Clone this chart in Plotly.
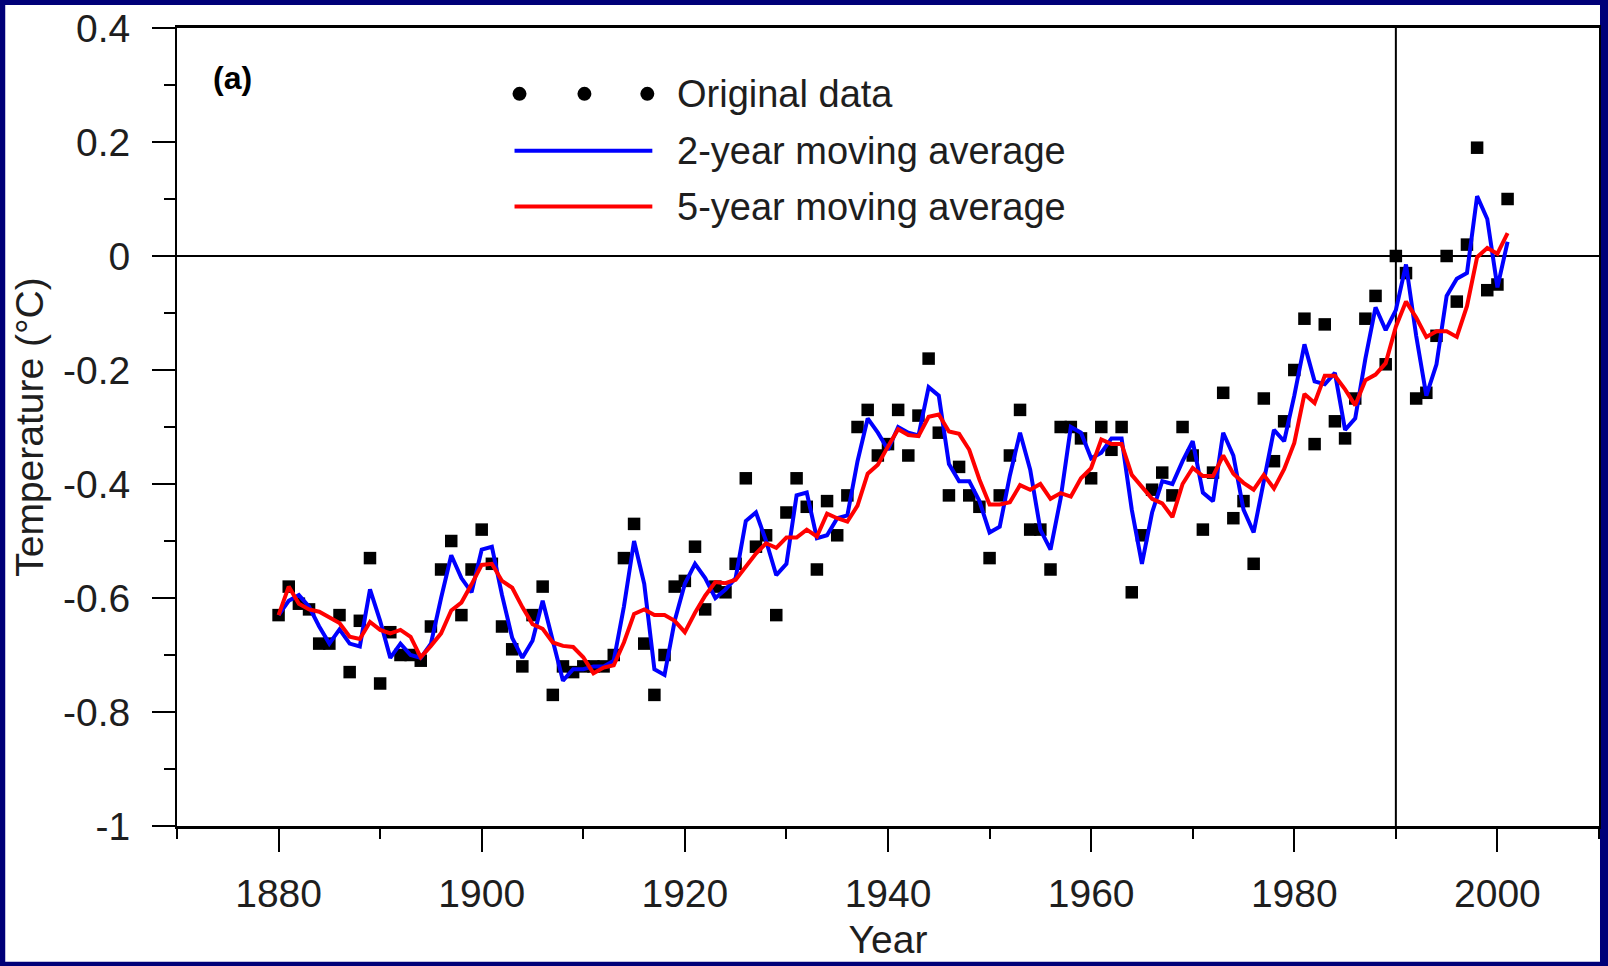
import plotly.graph_objects as go

# ---------------- data ----------------
years = list(range(1880, 2002))

original_data = [
    -0.63, -0.58, -0.61, -0.62, -0.68, -0.68, -0.63, -0.73, -0.64, -0.53,   # 1880-1889
    -0.75, -0.66, -0.70, -0.70, -0.71, -0.65, -0.55, -0.50, -0.63, -0.55,   # 1890-1899
    -0.48, -0.54, -0.65, -0.69, -0.72, -0.63, -0.58, -0.77, -0.72, -0.73,   # 1900-1909
    -0.72, -0.72, -0.72, -0.70, -0.53, -0.47, -0.68, -0.77, -0.70, -0.58,   # 1910-1919
    -0.57, -0.51, -0.62, -0.58, -0.59, -0.54, -0.39, -0.51, -0.49, -0.63,   # 1920-1929
    -0.45, -0.39, -0.44, -0.55, -0.43, -0.49, -0.42, -0.30, -0.27, -0.35,   # 1930-1939
    -0.33, -0.27, -0.35, -0.28, -0.18, -0.31, -0.42, -0.37, -0.42, -0.44,   # 1940-1949
    -0.53, -0.42, -0.35, -0.27, -0.48, -0.48, -0.55, -0.30, -0.30, -0.32,   # 1950-1959
    -0.39, -0.30, -0.34, -0.30, -0.59, -0.49, -0.41, -0.38, -0.42, -0.30,   # 1960-1969
    -0.35, -0.48, -0.38, -0.24, -0.46, -0.43, -0.54, -0.25, -0.36, -0.29,   # 1970-1979
    -0.20, -0.11, -0.33, -0.12, -0.29, -0.32, -0.25, -0.11, -0.07, -0.19,   # 1980-1989
    0.00, -0.03, -0.25, -0.24, -0.14, 0.00, -0.08, 0.02, 0.19, -0.06,       # 1990-1999
    -0.05, 0.10,                                                            # 2000-2001
]

moving_avg_2yr = [
    -0.63, -0.605, -0.595, -0.615, -0.65, -0.68, -0.655, -0.68, -0.685, -0.585,
    -0.64, -0.705, -0.68, -0.70, -0.705, -0.68, -0.60, -0.525, -0.565, -0.59,
    -0.515, -0.51, -0.595, -0.67, -0.705, -0.675, -0.605, -0.675, -0.745, -0.725,
    -0.725, -0.72, -0.72, -0.71, -0.615, -0.50, -0.575, -0.725, -0.735, -0.64,
    -0.575, -0.54, -0.565, -0.60, -0.585, -0.565, -0.465, -0.45, -0.50, -0.56,
    -0.54, -0.42, -0.415, -0.495, -0.49, -0.46, -0.455, -0.36, -0.285, -0.31,
    -0.34, -0.30, -0.31, -0.315, -0.23, -0.245, -0.365, -0.395, -0.395, -0.43,
    -0.485, -0.475, -0.385, -0.31, -0.375, -0.48, -0.515, -0.425, -0.30, -0.31,
    -0.355, -0.345, -0.32, -0.32, -0.445, -0.54, -0.45, -0.395, -0.40, -0.36,
    -0.325, -0.415, -0.43, -0.31, -0.35, -0.445, -0.485, -0.395, -0.305, -0.325,
    -0.245, -0.155, -0.22, -0.225, -0.205, -0.305, -0.285, -0.18, -0.09, -0.13,
    -0.095, -0.015, -0.14, -0.245, -0.19, -0.07, -0.04, -0.03, 0.105, 0.065,
    -0.055, 0.025,
]

moving_avg_5yr = [
    -0.63, -0.58, -0.61, -0.62, -0.624, -0.634, -0.644, -0.668, -0.672, -0.642,
    -0.656, -0.662, -0.656, -0.668, -0.704, -0.684, -0.662, -0.622, -0.608, -0.576,
    -0.542, -0.54, -0.57, -0.582, -0.616, -0.646, -0.654, -0.678, -0.684, -0.686,
    -0.704, -0.732, -0.722, -0.718, -0.678, -0.628, -0.62, -0.63, -0.63, -0.64,
    -0.66, -0.626, -0.596, -0.572, -0.574, -0.568, -0.544, -0.522, -0.504, -0.512,
    -0.494, -0.494, -0.48, -0.492, -0.452, -0.46, -0.466, -0.438, -0.382, -0.366,
    -0.334, -0.304, -0.314, -0.316, -0.282, -0.278, -0.308, -0.312, -0.34, -0.392,
    -0.436, -0.436, -0.432, -0.402, -0.41, -0.40, -0.426, -0.416, -0.422, -0.39,
    -0.372, -0.322, -0.33, -0.33, -0.384, -0.404, -0.426, -0.434, -0.458, -0.40,
    -0.372, -0.386, -0.386, -0.35, -0.382, -0.398, -0.41, -0.384, -0.408, -0.374,
    -0.328, -0.242, -0.258, -0.21, -0.21, -0.234, -0.262, -0.218, -0.208, -0.188,
    -0.124, -0.08, -0.108, -0.142, -0.132, -0.132, -0.142, -0.088, -0.002, 0.014,
    0.004, 0.04,
]

y_tick_values = [0.4, 0.2, 0, -0.2, -0.4, -0.6, -0.8, -1]
y_tick_labels = ["0.4", "0.2", "0", "-0.2", "-0.4", "-0.6", "-0.8", "-1"]

series_names = ["Original data", "2-year moving average", "5-year moving average"]
x_title = "Year"
y_title = "Temperature (\u00b0C)"
panel_label = "(a)"

# ---------------- layout geometry ----------------
W, H = 1608, 966
ML, MR, MT, MB = 177, 7, 26, 140
PW = W - ML - MR
PH = H - MT - MB

def px2x(p):
    return (p - ML) / PW

def py2y(p):
    return (H - MB - p) / PH

FONT = "Liberation Sans, Arial, Helvetica, sans-serif"
TXT = "#1e1e1e"
NAVY = "#000078"

fig = go.Figure()

fig.add_trace(go.Scatter(
    x=years, y=original_data, mode="markers", name=series_names[0],
    marker=dict(symbol="square", size=12.5, color="black", line=dict(width=0)),
    showlegend=False,
))
fig.add_trace(go.Scatter(
    x=years, y=moving_avg_2yr, mode="lines", name=series_names[1],
    line=dict(color="#0000ff", width=4), showlegend=False,
))
fig.add_trace(go.Scatter(
    x=years, y=moving_avg_5yr, mode="lines", name=series_names[2],
    line=dict(color="#ff0000", width=4), showlegend=False,
))

shapes = []
# white page inside the navy frame
shapes.append(dict(type="rect", xref="paper", yref="paper", layer="below",
                   x0=px2x(5), x1=px2x(1602), y0=py2y(962), y1=py2y(3),
                   fillcolor="white", line=dict(width=0)))
# reference lines y=0 and x=1990
shapes.append(dict(type="line", xref="x", yref="y", layer="below",
                   x0=1870, x1=2010, y0=0, y1=0, line=dict(color="black", width=2)))
shapes.append(dict(type="line", xref="x", yref="y", layer="below",
                   x0=1990, x1=1990, y0=-1, y1=0.4, line=dict(color="black", width=2)))

# manual legend
LEG_Y = (92, 149, 205)
for cx in (520, 585, 648):
    shapes.append(dict(type="circle", xref="paper", yref="paper",
                       x0=px2x(cx - 7), x1=px2x(cx + 7),
                       y0=py2y(LEG_Y[0] + 7), y1=py2y(LEG_Y[0] - 7),
                       fillcolor="black", line=dict(width=0)))
shapes.append(dict(type="line", xref="paper", yref="paper",
                   x0=px2x(515), x1=px2x(653), y0=py2y(LEG_Y[1]), y1=py2y(LEG_Y[1]),
                   line=dict(color="#0000ff", width=4)))
shapes.append(dict(type="line", xref="paper", yref="paper",
                   x0=px2x(515), x1=px2x(653), y0=py2y(LEG_Y[2]), y1=py2y(LEG_Y[2]),
                   line=dict(color="#ff0000", width=4)))

annotations = []
for name, yy in zip(series_names, LEG_Y):
    annotations.append(dict(xref="paper", yref="paper", x=px2x(676), y=py2y(yy),
                            xanchor="left", yanchor="middle", showarrow=False,
                            text=name, font=dict(family=FONT, size=38, color=TXT)))
annotations.append(dict(xref="paper", yref="paper", x=px2x(233), y=py2y(76),
                        xanchor="center", yanchor="middle", showarrow=False,
                        text="<b>" + panel_label + "</b>",
                        font=dict(family=FONT, size=32, color="black")))

fig.update_layout(
    width=W, height=H,
    margin=dict(l=ML, r=MR, t=MT, b=MB, pad=0),
    paper_bgcolor=NAVY, plot_bgcolor="white",
    font=dict(family=FONT, color=TXT),
    shapes=shapes, annotations=annotations,
    showlegend=False,
    xaxis=dict(
        range=[1870, 2010], tickmode="linear", tick0=1880, dtick=20,
        ticks="outside", ticklen=23, tickwidth=2, tickcolor="black",
        showline=True, linecolor="black", linewidth=3, mirror=True,
        showgrid=False, zeroline=False,
        tickfont=dict(family=FONT, size=39, color=TXT),
        ticklabelstandoff=8,
        minor=dict(tickmode="linear", tick0=1870, dtick=10, ticks="outside",
                   ticklen=10, tickwidth=2, tickcolor="black", showgrid=False),
        title=dict(text=x_title, font=dict(family=FONT, size=39, color=TXT), standoff=12),
    ),
    yaxis=dict(
        range=[-1, 0.4], tickmode="array", tickvals=y_tick_values, ticktext=y_tick_labels,
        ticks="outside", ticklen=23, tickwidth=2, tickcolor="black",
        showline=True, linecolor="black", linewidth=2, mirror=True,
        showgrid=False, zeroline=False,
        tickfont=dict(family=FONT, size=39, color=TXT),
        ticklabelstandoff=14,
        minor=dict(tickmode="linear", tick0=0, dtick=0.1, ticks="outside",
                   ticklen=11, tickwidth=2, tickcolor="black", showgrid=False),
        title=dict(text=y_title, font=dict(family=FONT, size=39, color=TXT), standoff=7),
    ),
)

fig.write_html(
    "out.html",
    config={"displayModeBar": False},
    post_script="document.body.style.margin='0';document.body.style.overflow='hidden';",
)
